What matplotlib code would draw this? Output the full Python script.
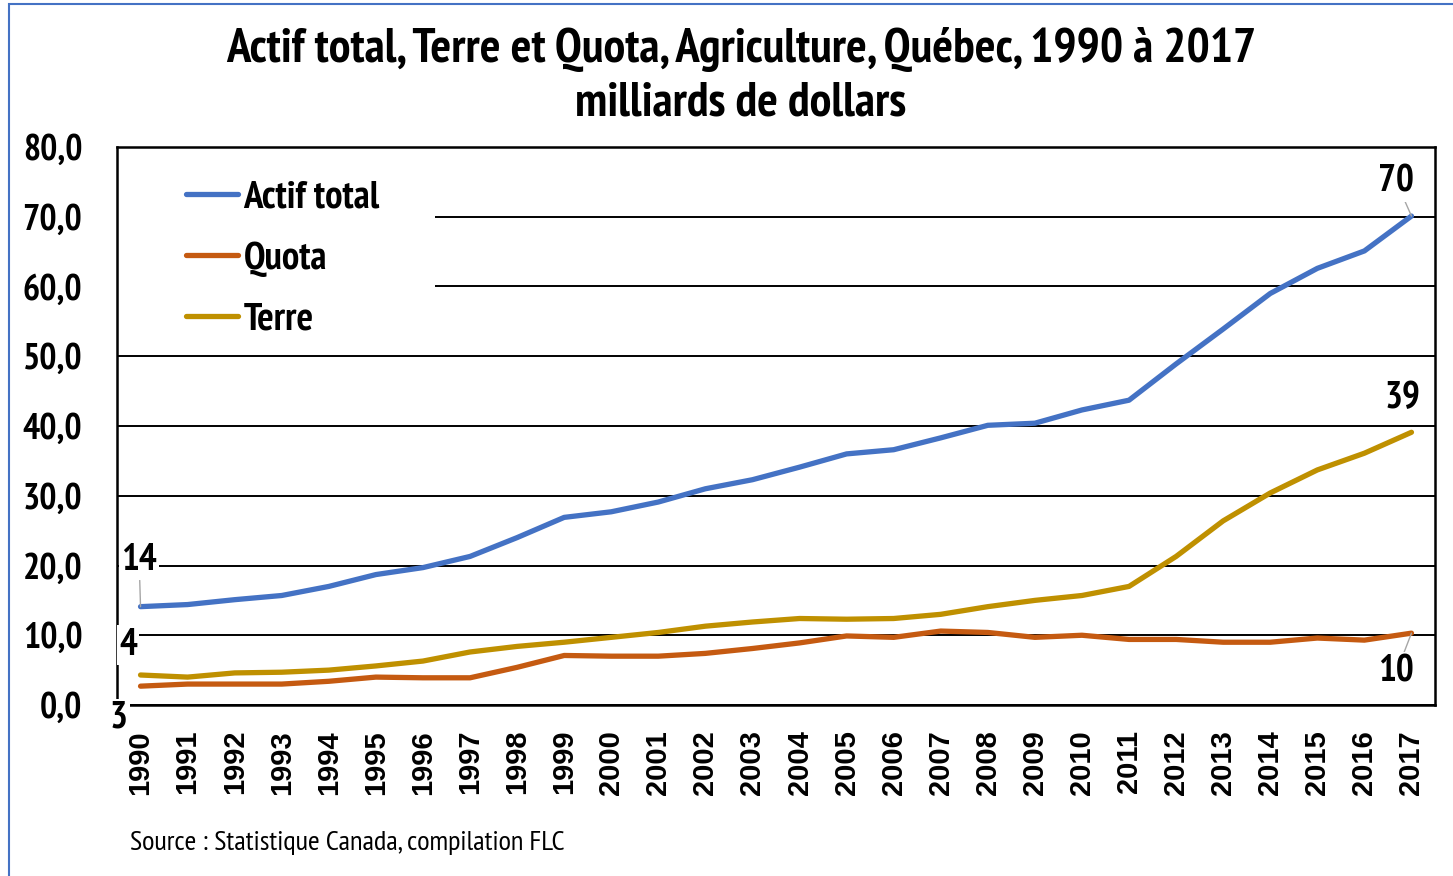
import matplotlib
matplotlib.use("Agg")
import matplotlib.pyplot as plt
from matplotlib.patches import Rectangle
from matplotlib.lines import Line2D
from matplotlib.ticker import FuncFormatter
from matplotlib import font_manager

years = [str(y) for y in range(1990, 2018)]
actif_total = [14.1, 14.4, 15.1, 15.7, 17.0, 18.7, 19.7, 21.3, 24.0, 26.9,
               27.7, 29.1, 31.0, 32.3, 34.1, 36.0, 36.6, 38.3, 40.1, 40.4,
               42.3, 43.7, 48.9, 53.9, 59.0, 62.6, 65.1, 70.1]
quota = [2.7, 3.0, 3.0, 3.0, 3.4, 4.0, 3.9, 3.9, 5.4, 7.1,
         7.0, 7.0, 7.4, 8.1, 8.9, 9.9, 9.7, 10.6, 10.4, 9.7,
         10.0, 9.4, 9.4, 9.0, 9.0, 9.6, 9.3, 10.3]
terre = [4.3, 4.0, 4.6, 4.7, 5.0, 5.6, 6.3, 7.6, 8.4, 9.0,
         9.7, 10.4, 11.3, 11.9, 12.4, 12.3, 12.4, 13.0, 14.1, 15.0,
         15.7, 17.0, 21.3, 26.4, 30.4, 33.7, 36.1, 39.1]
yticks = [0, 10, 20, 30, 40, 50, 60, 70, 80]

C_BLUE = "#4472C4"
C_ORANGE = "#C55A11"
C_GOLD = "#BF9000"

CANDIDATES = ["Liberation Sans Narrow", "Arial Narrow", "PT Sans Narrow", "Pragati Narrow",
              "Archivo Narrow", "Roboto Condensed", "IBM Plex Sans Condensed",
              "Fira Sans Condensed", "Asap Condensed", "Barlow Condensed"]


def pick(bold):
    for name in CANDIDATES:
        for f in font_manager.fontManager.ttflist:
            if f.name != name or f.style != "normal":
                continue
            w = f.weight if isinstance(f.weight, int) else font_manager.weight_dict.get(f.weight, 400)
            if (bold and w == 700) or (not bold and w == 400):
                return [name, "DejaVu Sans"]
    return ["DejaVu Sans"]


NARROW_B = pick(True)
NARROW_R = pick(False)
WIDE = ["Arimo", "Liberation Sans", "DejaVu Sans"]

fig = plt.figure(figsize=(14.53, 8.76), dpi=100)
W, H = 1453, 876
ax = fig.add_axes([117 / W, (H - 705) / H, (1435 - 117) / W, (705 - 147) / H])

x = list(range(len(years)))
lw = 3.8
ax.plot(x, actif_total, color=C_BLUE, lw=lw, zorder=3, solid_capstyle="round", solid_joinstyle="round")
ax.plot(x, quota, color=C_ORANGE, lw=lw, zorder=3, solid_capstyle="round", solid_joinstyle="round")
ax.plot(x, terre, color=C_GOLD, lw=lw, zorder=3, solid_capstyle="round", solid_joinstyle="round")

ax.set_xlim(-0.5, len(years) - 0.5)
ax.set_ylim(0, 80)
ax.set_yticks(yticks)
ax.yaxis.set_major_formatter(FuncFormatter(lambda v, p: f"{v:.1f}".replace(".", ",")))
ax.set_xticks(x)
ax.set_xticklabels(years, rotation=90, fontfamily=WIDE, fontweight="bold", fontsize=21, va="top")
for lab in ax.get_yticklabels():
    lab.set_fontfamily(NARROW_B)
    lab.set_fontweight("bold")
    lab.set_fontsize(26)
ax.tick_params(axis="y", length=0, pad=25)
ax.tick_params(axis="x", length=0, pad=18)

ax.set_axisbelow(True)
ax.grid(axis="y", color="black", lw=1.4)
for s in ax.spines.values():
    s.set_color("black")
    s.set_linewidth(1.8)
    s.set_zorder(2.5)

# white area behind legend
ax.add_patch(Rectangle((0, 0.655), (435 - 117) / 1318, 0.33, transform=ax.transAxes,
                       facecolor="white", edgecolor="none", zorder=1))
handles = [Line2D([], [], color=C_BLUE, lw=lw, solid_capstyle="round"),
           Line2D([], [], color=C_ORANGE, lw=lw, solid_capstyle="round"),
           Line2D([], [], color=C_GOLD, lw=lw, solid_capstyle="round")]
leg = ax.legend(handles, ["Actif total", "Quota", "Terre"], loc="upper left",
                bbox_to_anchor=(0.0255, 1.0023), frameon=False,
                prop={"family": NARROW_B, "weight": "bold", "size": 28},
                handlelength=1.36, handletextpad=0.13, labelspacing=0.66)

# data labels
lab_kw = dict(fontfamily=NARROW_B, fontweight="bold", fontsize=27, ha="center", va="center",
              annotation_clip=False, zorder=5,
              bbox=dict(facecolor="white", edgecolor="none", pad=1.5))
arrow = dict(arrowstyle="-", color="#A6A6A6", lw=1.0, shrinkA=0, shrinkB=0)
ax.annotate(f"{actif_total[0]:.0f}", xy=(0, actif_total[0]), xytext=(-0.03, 20.7), arrowprops=arrow, **lab_kw)
ax.annotate(f"{terre[0]:.0f}", xy=(0, terre[0]), xytext=(-0.27, 8.6), **lab_kw)
ax.annotate(f"{quota[0]:.0f}", xy=(0, quota[0]), xytext=(-0.46, -1.9), **lab_kw)
n = len(years) - 1
ax.annotate(f"{actif_total[n]:.0f}", xy=(n, actif_total[n]), xytext=(n - 0.32, 75.0), arrowprops=arrow, **lab_kw)
ax.annotate(f"{terre[n]:.0f}", xy=(n, terre[n]), xytext=(n - 0.19, 43.9), **lab_kw)
ax.annotate(f"{quota[n]:.0f}", xy=(n, quota[n]), xytext=(n - 0.32, 4.7), arrowprops=arrow, **lab_kw)

fig.text(741 / W, 1 - 50 / H, "Actif total, Terre et Quota, Agriculture, Québec, 1990 à 2017",
         ha="center", va="center", fontfamily=NARROW_B, fontweight="bold", fontsize=35)
fig.text(741 / W, 1 - 103 / H, "milliards de dollars",
         ha="center", va="center", fontfamily=NARROW_B, fontweight="bold", fontsize=35)
fig.text(130 / W, 1 - 843 / H, "Source : Statistique Canada, compilation FLC",
         ha="left", va="center", fontfamily=NARROW_R, fontsize=20.5)

# figure border (blue)
fig.add_artist(Rectangle((9 / W, -0.05), 1.1, 1 - 4 / H + 0.05, transform=fig.transFigure,
                         facecolor="none", edgecolor=C_BLUE, lw=1.5, zorder=0))

fig.savefig("out.png", dpi=100)
